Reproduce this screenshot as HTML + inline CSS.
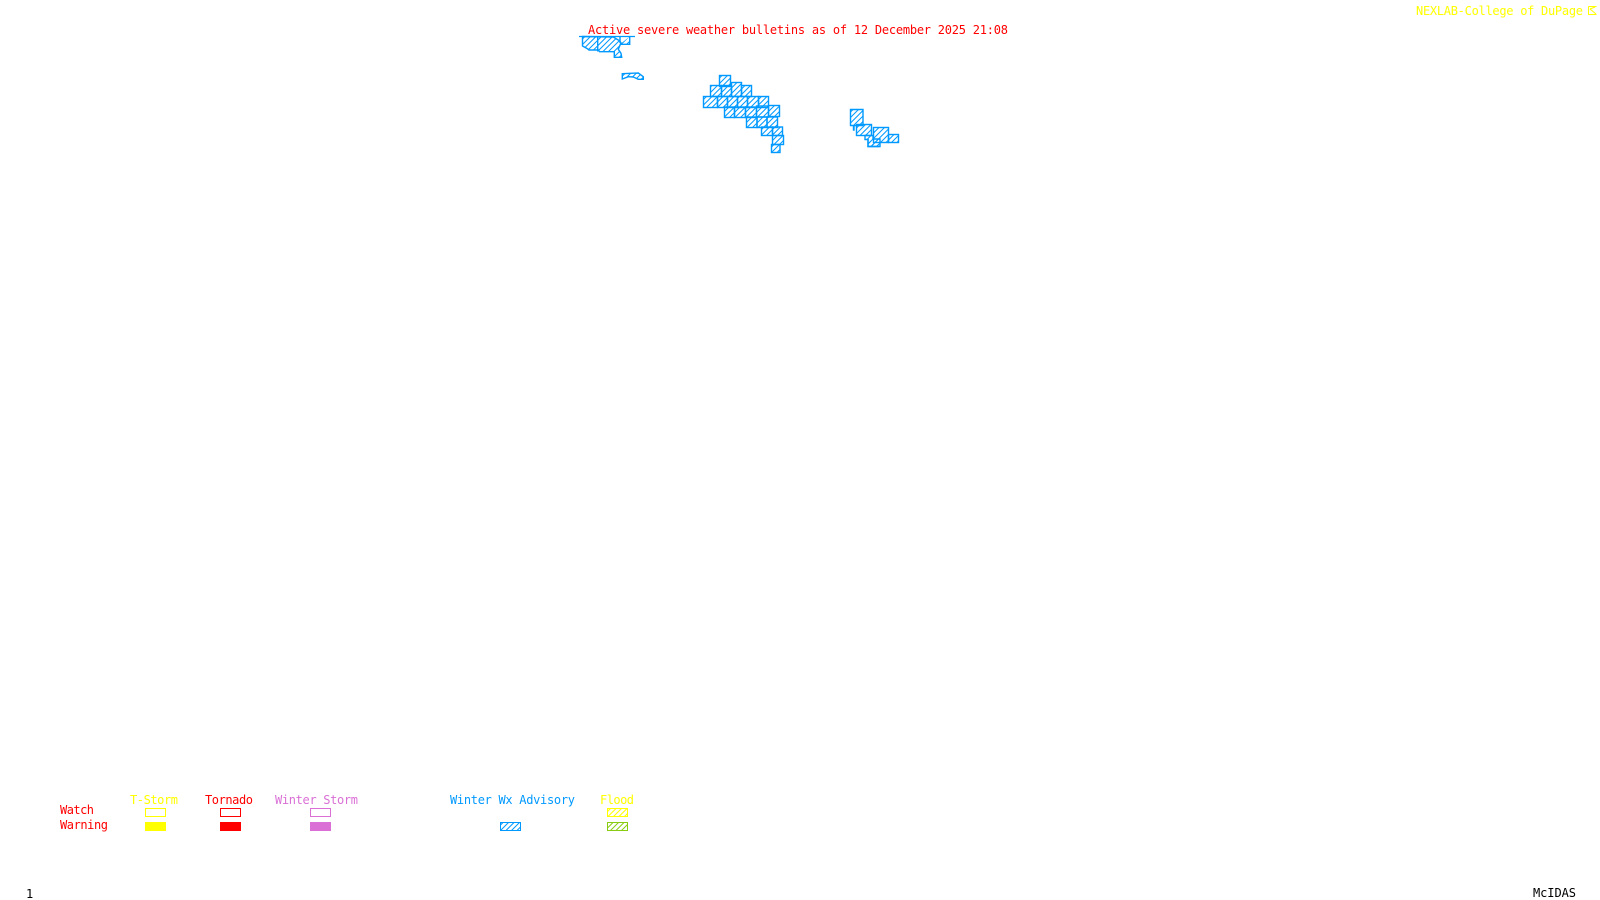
<!DOCTYPE html>
<html><head><meta charset="utf-8"><title>Active severe weather bulletins</title>
<style>
html,body{margin:0;padding:0;background:#fff;width:1600px;height:900px;overflow:hidden}
svg{display:block;position:absolute;left:0;top:0}
text{font-family:"DejaVu Sans Mono","Liberation Mono",monospace;font-size:12px;white-space:pre}
</style></head><body>
<svg width="1600" height="900" viewBox="0 0 1600 900" xmlns="http://www.w3.org/2000/svg">
<defs>
<pattern id="hb" width="5.5" height="5.5" patternUnits="userSpaceOnUse"><path d="M-1 6.5L6.5 -1M-1 1L1 -1M4.5 6.500L6.500 4.500" stroke="#0099ff" stroke-width="1" fill="none"/></pattern>
<pattern id="hy" width="5.5" height="5.5" patternUnits="userSpaceOnUse"><path d="M-1 6.5L6.5 -1M-1 1L1 -1M4.5 6.500L6.500 4.500" stroke="#ffff00" stroke-width="1" fill="none"/></pattern>
<pattern id="hg" width="5.5" height="5.5" patternUnits="userSpaceOnUse"><path d="M-1 6.5L6.5 -1M-1 1L1 -1M4.5 6.500L6.500 4.500" stroke="#88cc11" stroke-width="1" fill="none"/></pattern>
</defs>

<rect width="1600" height="900" fill="#fff"/>

<text x="588" y="34" fill="#ff0000" textLength="420" lengthAdjust="spacing">Active severe weather bulletins as of 12 December 2025 21:08</text>
<text x="1416" y="15" fill="#ffff00" textLength="167" lengthAdjust="spacing">NEXLAB-College of DuPage</text>
<path d="M1588.5 6.5H1596.5M1588.5 6.5V14.5H1596.5M1590 9L1596 14M1590 9L1595 7" fill="none" stroke="#ffff00" stroke-width="1"/>

<line x1="579" y1="36.5" x2="635" y2="36.5" stroke="#0099ff" stroke-width="1.2"/>

<g fill="url(#hb)" stroke="#0099ff" stroke-width="1.4" stroke-linejoin="miter">
<path d="M582.5 36.5V46L587 48.500L589 50H598.500L599.500 51.700H614.300V57.300H621.700L621 53.300L618.300 49.300L621 42.700L619.300 40.700L613.300 37Z"/>
<path d="M597.700 36.500V51.500M620 37V43M620 44.300H629.700V36.500"/>
<path d="M622.300 73.700L638.300 73L643.300 76.700V79.300H638.300L633.300 77L628.300 76.700L622.300 79Z"/>

<rect x="719.500" y="75.500" width="11" height="11"/>
<rect x="710.500" y="85.500" width="11" height="11"/>
<rect x="721.500" y="85.500" width="10" height="11"/>
<rect x="731.500" y="82.500" width="10" height="14"/>
<rect x="741.500" y="85.500" width="10" height="11"/>
<rect x="703.500" y="96.500" width="14" height="11"/>
<rect x="717.500" y="96.500" width="10" height="11"/>
<rect x="727.500" y="96.500" width="10" height="11"/>
<rect x="737.500" y="96.500" width="10" height="11"/>
<rect x="747.500" y="96.500" width="11" height="11"/>
<rect x="758.500" y="96.500" width="10" height="11"/>
<rect x="724.500" y="107" width="10" height="10.500"/>
<rect x="734.500" y="107" width="11" height="10.500"/>
<rect x="745.500" y="107" width="11" height="10.500"/>
<rect x="756.500" y="106" width="12" height="11"/>
<rect x="768.500" y="105.500" width="11" height="11"/>
<rect x="746.500" y="117" width="10.500" height="10.500"/>
<rect x="757" y="117" width="10" height="10.500"/>
<rect x="767" y="117" width="10.500" height="10.500"/>
<rect x="761.500" y="127" width="11" height="8.500"/>
<rect x="772.500" y="127" width="10" height="8.500"/>
<rect x="772.500" y="135.500" width="11" height="9"/>
<rect x="771.500" y="144.500" width="8.500" height="8"/>

<path d="M850.500 109.500H863V125.500H854V130H853.500V125.500H850.500Z"/>
<rect x="856.500" y="124.500" width="15" height="11"/>
<path d="M865 135.500H873V139L880 139V146.500H868V139.500H865Z"/>
<path d="M868 139V146.500H879.500"/>
<rect x="873.500" y="127.500" width="15" height="15"/>
<rect x="888.500" y="134.500" width="10" height="8"/>
</g>

<text x="130" y="804" fill="#ffff00" textLength="48" lengthAdjust="spacing">T-Storm</text>
<text x="205" y="804" fill="#ff0000" textLength="48" lengthAdjust="spacing">Tornado</text>
<text x="275" y="804" fill="#da70d6" textLength="83" lengthAdjust="spacing">Winter Storm</text>
<text x="450" y="804" fill="#0099ff" textLength="125" lengthAdjust="spacing">Winter Wx Advisory</text>
<text x="600" y="804" fill="#ffff00" textLength="34" lengthAdjust="spacing">Flood</text>
<text x="60" y="814" fill="#ff0000" textLength="34" lengthAdjust="spacing">Watch</text>
<text x="60" y="829" fill="#ff0000" textLength="48" lengthAdjust="spacing">Warning</text>

<g fill="none" stroke-width="1">
<rect x="145.500" y="808.500" width="20" height="8" stroke="#ffff00"/>
<rect x="220.500" y="808.500" width="20" height="8" stroke="#ff0000"/>
<rect x="310.500" y="808.500" width="20" height="8" stroke="#da70d6"/>
<rect x="607.500" y="808.500" width="20" height="8" stroke="#ffff00" fill="url(#hy)"/>
<rect x="500.500" y="822.500" width="20" height="8" stroke="#0099ff" fill="url(#hb)"/>
<rect x="607.500" y="822.500" width="20" height="8" stroke="#88cc11" fill="url(#hg)"/>
</g>
<rect x="145" y="822" width="21" height="9" fill="#ffff00"/>
<rect x="220" y="822" width="21" height="9" fill="#ff0000"/>
<rect x="310" y="822" width="21" height="9" fill="#da70d6"/>

<text x="26" y="898" fill="#000000">1</text>
<text x="1533" y="897" fill="#000000" textLength="43" lengthAdjust="spacing">McIDAS</text>
</svg>
</body></html>
